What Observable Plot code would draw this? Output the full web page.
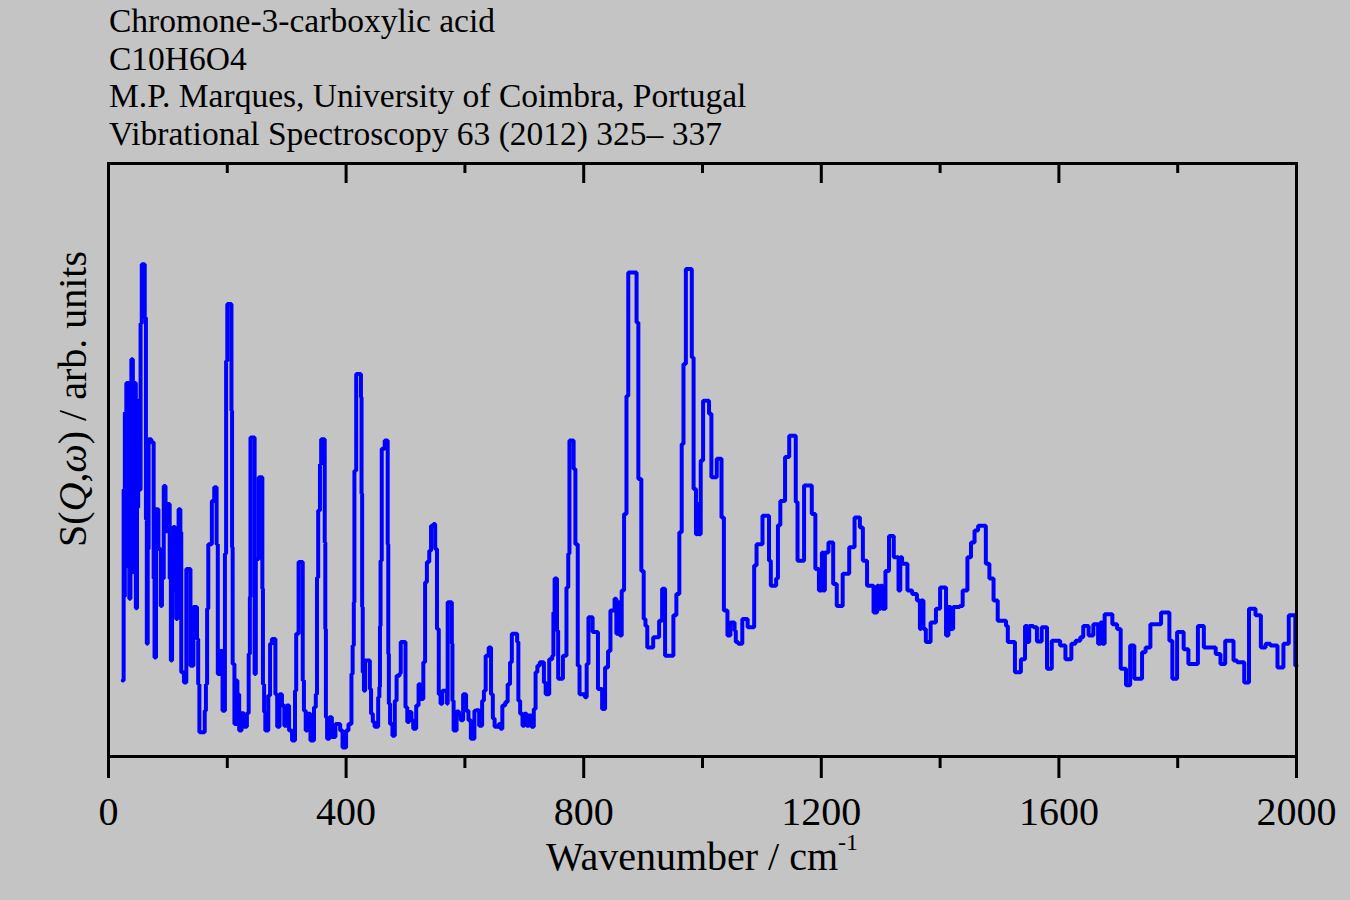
<!DOCTYPE html>
<html><head><meta charset="utf-8">
<script src="https://cdn.jsdelivr.net/npm/d3@7"></script>
<script src="https://cdn.jsdelivr.net/npm/@observablehq/plot@0.6"></script>
<style>
html,body{margin:0;padding:0;background:#c4c4c4;}
#chart{width:1350px;height:900px;}
</style></head><body><div id="chart"></div>
<script>
const titleLines = [
  "Chromone-3-carboxylic acid",
  "C10H6O4",
  "M.P. Marques, University of Coimbra, Portugal",
  "Vibrational Spectroscopy 63 (2012) 325\u2013 337"
];
const majorTicks = [0, 400, 800, 1200, 1600, 2000];
const minorTicks = [200, 600, 1000, 1400, 1800];

// [wavenumber (cm-1), intensity (arb. units)] step points
const band0to330 = [
[24,12.8],[25.5,45],[26.5,27],[27.5,58],[29,32],[30,63],[32,40],[33.5,63],[35,26.6],[37,50],
[38.5,67],[41,55],[43,31],[44.5,63],[46,25],[48,42],[50,60],[52,45],[54,73],[56,83],
[61,74],[63,40],[64.5,19],[66,35],[67.5,53.5],[72,53],[76,30],[77.5,16.7],[80,41.7],[84,35],
[88,25.4],[90,30],[93,45.6],[96,38],[99,42.6],[103,30],[105,16.2],[107,28],[109,38.7],[112,30],
[114,23.2],[116,35],[118,41.7],[121,37.8],[122.5,14.2],[127,12.5],[131,31.6],[138,15.3],[143,25.2],[149,19.8],
[151,12.2],[153,4.1],[162,7.7],[164,12.2],[166,24.9],[168,35.8],[174,43.1],[178,45.4],[182,35.8],[184,13.9],
[188,17.8],[192,7.7],[196,34.2],[198,66.7],[200,76.3],[207,58.3],[208,35.3],[209,15.6],[212,5.5],[215,12.8],
[217,10.5],[220,4.4],[224,7.3],[228,5],[233,7.3],[236,17.3],[238,26.9],[239,53.8],[246,13.9],[248,33.3],
[253,47.1],[259,28.3],[260,12.2],[262,7.5],[264,4.4],[269,10.3],[272,19],[275,19.8],[281,10.5],[284,5],
[288,10.5],[292,8.6],[296,5.2],[300,8.6],[304,4.4],[309,2.7],[314,11.1],[316,20.7],[320,32.8],[327,12.8],
[329,7.7],[332,4.4]
];
const band330to660 = [
[335,7.2],[340,2.7],[346,8.3],[349,10.5],[351,30.2],[353,41.5],[356,49.3],[358,53.5],[364,36.1],[365,21.5],
[366,6.6],[368,3],[372,6.6],[376,3.3],[382,5.5],[390,4.4],[394,1.5],[400,4.4],[404,5.5],[409,13.9],
[411,18.7],[413,26],[414,48.2],[417,64.5],[425,60.6],[426,44.3],[427,25.2],[428,14.2],[430,11.1],[432,16.2],
[440,11.4],[442,7.2],[445,5.8],[448,5],[454,10],[456,11.7],[457,22],[458,33],[460,51.9],[465,53.3],
[470,35.8],[471,17.3],[472,8.9],[474,5.5],[478,3.5],[482,9.4],[485,13.6],[490,14],[492,19.3],[500,8.3],
[503,5.8],[506,7.5],[510,6.1],[513,4.7],[518,8.6],[522,12.2],[525,9.7],[530,15.9],[533,29.4],[536,32.8],
[540,34.7],[543,38.9],[547,39.2],[550,35],[553,21.5],[556,10.5],[559,8.9],[562,11.1],[570,8.9],[571,26],
[578,19],[579,9.4],[581,4.4],[586,7.6],[590,6.9],[593,6.1],[597,10.5],[602,7.7],[606,6.1],[610,3],
[616,7.7],[619,7.8],[624,5.2],[629,9.4],[632,11.1],[635,17],[640,18.4],[644,10.5],[647,6.4],[650,5],
[657,5.5]
];
const band660to990 = [
[660,4.7],[663,8.6],[668,9.2],[672,12.2],[676,15.9],[679,20.7],[688,19.3],[690,9.4],[693,7.2],[697,5.2],
[700,7.2],[704,5.2],[708,6.9],[712,5],[716,8],[719,14.2],[722,15.3],[726,15.9],[733,12.5],[736,10.5],
[742,16.4],[747,17],[749,24.3],[751,30],[755,21.2],[757,13.1],[765,17],[771,28.5],[774,34.2],[776,53.3],
[783,48.5],[786,35.8],[790,15.3],[793,10.5],[802,10],[805,15.6],[808,23.5],[815,21],[824,11.4],[831,8],
[836,15],[841,17.8],[845,24.6],[852,26.6],[855,20.7],[858,26],[861,20.4],[864,28],[868,40.9],[872,60.8],
[875,81.6],[889,73.2],[892,46.8],[897,31.3],[901,23.2],[904,22],[907,18.4],[917,20.1],[927,22.9],[932,28.3],
[937,17],[951,23.8],[956,27.4],[961,37.8],[965,52.7],[968,66.2],[972,82.2],[982,67.3],[985,45.1],[989,37.5]
];
const band990to1330 = [
[991,42.6],[994,37.5],[997,49.9],[1001,60],[1011,57.8],[1015,47.1],[1024,50.2],[1032,40.3],[1036,24.6],[1042,20.4],
[1047,22.6],[1054,21.2],[1056,19.3],[1060,19],[1067,23.2],[1076,21.8],[1087,32.2],[1091,35.8],[1101,40.6],[1112,33],
[1115,28.8],[1124,30],[1127,39],[1131,43.1],[1139,50.5],[1146,54.1],[1157,42.9],[1160,33],[1171,45.7],[1184,40.9],
[1190,31.6],[1196,28],[1201,34.4],[1203,28],[1206,34.4],[1212,36.1],[1220,29.1],[1226,25.4],[1236,30.8],[1247,35.3],
[1256,40.3],[1265,38.6],[1270,33],[1277,28.8],[1288,24.3],[1294,28.8],[1297,24.9],[1300,28.8],[1303,24.9],[1308,31.3],
[1314,37.2],[1322,33.6],[1330,28]
];
const band1330to1670 = [
[1333,33.6],[1336,32.5],[1345,28],[1353,27.4],[1361,26.3],[1366,21.5],[1368,26.3],[1372,21.5],[1376,19.3],[1384,22.6],
[1393,24.9],[1400,28.5],[1410,20.4],[1414,25.2],[1418,21.5],[1422,25.2],[1433,25.4],[1438,28],[1446,33.6],[1452,36.1],
[1458,38.1],[1464,38.9],[1477,32.5],[1483,30],[1490,26.3],[1497,22.9],[1511,22],[1514,19.3],[1526,14.2],[1536,16.4],
[1543,22],[1547,19.3],[1550,22],[1557,21.8],[1563,19.4],[1571,21.8],[1580,14.8],[1588,19.5],[1602,18.7],[1611,16.4],
[1621,19],[1628,19.5],[1636,20.1],[1641,22],[1650,20.4],[1658,22.3],[1666,19]
];
const band1670to2000 = [
[1670,22.6],[1673,19],[1677,24],[1690,22.3],[1698,21.5],[1704,14.8],[1713,12],[1720,18.7],[1727,13.1],[1740,17.6],
[1746,18.4],[1754,22.3],[1772,24.3],[1786,19.5],[1791,13.1],[1799,21],[1810,18.1],[1818,15.6],[1834,22],[1844,18.4],
[1864,17.3],[1872,15.6],[1880,19.5],[1894,16.2],[1900,15.9],[1912,12.5],[1920,24.9],[1931,23.8],[1940,18.4],[1948,19],
[1956,18.7],[1968,15],[1978,19],[1987,23.8],[1998,15.3],[2000,15.3]
];

const spectrum = [band0to330, band330to660, band660to990, band990to1330, band1330to1670, band1670to2000]
  .flat().map(([wavenumber, intensity]) => ({wavenumber, intensity}));

const W = 1350, H = 900, mL = 108, mR = 54, mT = 163, mB = 144;
const plotH = H - mT - mB;
const serif = "'Liberation Serif','Times New Roman',serif";

const chart = Plot.plot({
  width: W, height: H,
  marginLeft: mL, marginRight: mR, marginTop: mT, marginBottom: mB,
  style: {background: "#c4c4c4", fontFamily: serif, fontSize: "40px", color: "black", overflow: "visible"},
  x: {domain: [0, 2000]},
  y: {domain: [0, 100], axis: null},
  marks: [
    Plot.line(spectrum, {x: "wavenumber", y: "intensity", curve: "step-after", stroke: "#0000ff", strokeWidth: 4, strokeLinejoin: "miter"}),
    Plot.frame({stroke: "black", strokeWidth: 3}),
    Plot.axisX(majorTicks, {anchor: "bottom", tickSize: 22, tickPadding: 18, strokeWidth: 3, fontSize: 40, label: null, tickFormat: d => String(d)}),
    Plot.axisX(minorTicks, {anchor: "bottom", tickSize: 12, strokeWidth: 3, label: null, tickFormat: () => ""}),
    Plot.tickX(majorTicks, {x: d => d, stroke: "black", strokeWidth: 3, insetBottom: plotH - 20}),
    Plot.tickX(minorTicks, {x: d => d, stroke: "black", strokeWidth: 3, insetBottom: plotH - 10})
  ]
});
document.getElementById("chart").append(chart);

const svg = d3.select(chart);
const g = svg.append("g").attr("font-family", serif).attr("fill", "black");
titleLines.forEach((t, i) => {
  g.append("text").attr("x", 109).attr("y", 32 + i * 37.7).attr("text-anchor", "start").attr("font-size", 33.5).text(t);
});
const xl = g.append("text").attr("x", (mL + W - mR) / 2).attr("y", 870).attr("text-anchor", "middle").attr("font-size", 40);
xl.append("tspan").text("Wavenumber / cm");
xl.append("tspan").attr("dy", -20).attr("font-size", 24).text("-1");

const yl = g.append("text").attr("transform", "translate(86,399) rotate(-90)").attr("text-anchor", "middle").attr("font-size", 40);
yl.append("tspan").text("S(");
yl.append("tspan").attr("font-style", "italic").text("Q");
yl.append("tspan").text(",");
yl.append("tspan").attr("font-style", "italic").text("\u03C9");
yl.append("tspan").text(") / arb. units");
</script>
</body></html>
